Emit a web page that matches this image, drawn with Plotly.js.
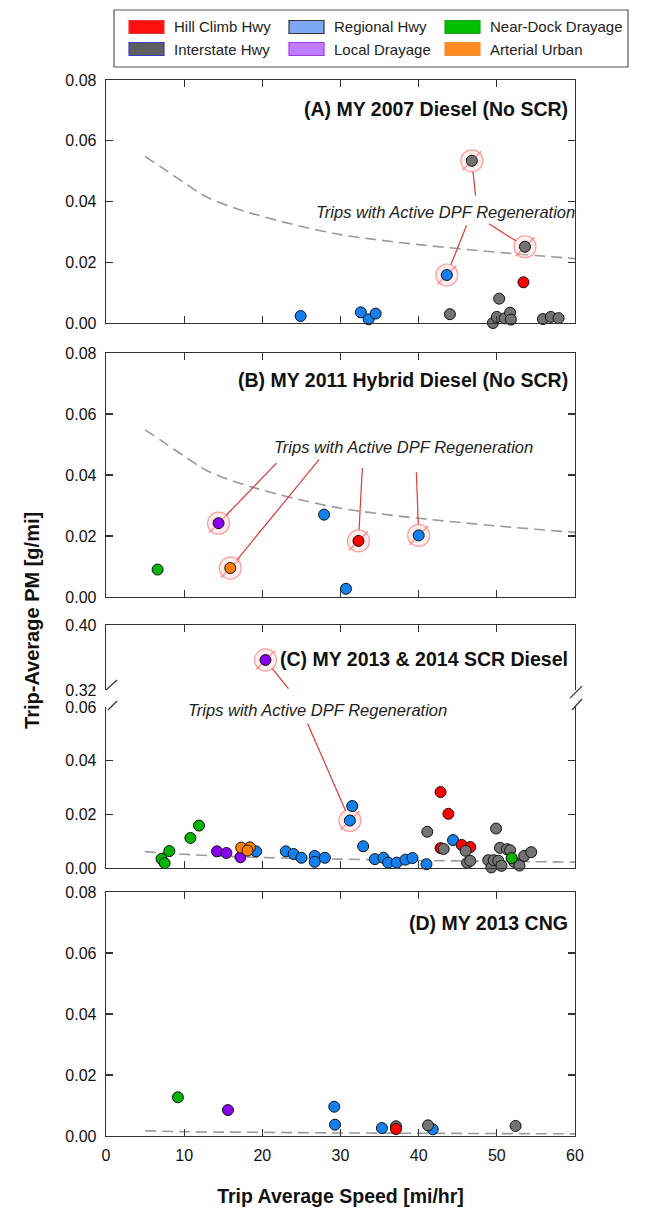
<!DOCTYPE html>
<html><head><meta charset="utf-8">
<script src="https://cdn.plot.ly/plotly-3.0.1.min.js"></script>
<style>html,body{margin:0;padding:0;background:#fff}#chart{width:651px;height:1213px}</style>
</head><body><div id="chart"></div>
<script>
// ---------- categories ----------
const categories = ['Hill Climb Hwy', 'Interstate Hwy', 'Regional Hwy', 'Local Drayage', 'Near-Dock Drayage', 'Arterial Urban'];
const categoryCodes = ['H', 'I', 'R', 'L', 'N', 'A'];
const panelTitles = ['(A) MY 2007 Diesel (No SCR)', '(B) MY 2011 Hybrid Diesel (No SCR)', '(C) MY 2013 & 2014 SCR Diesel', '(D) MY 2013 CNG'];
const regenLabel = 'Trips with Active DPF Regeneration';
const xTitle = 'Trip Average Speed [mi/hr]';
const yTitle = 'Trip-Average PM [g/mi]';
const xTicks = [0, 10, 20, 30, 40, 50, 60];
const yTicks = [0, 0.02, 0.04, 0.06, 0.08];
const yTicksCLow = [0, 0.02, 0.04, 0.06];
const yTicksCHigh = [0.32, 0.40];

// ---------- Panel A: MY 2007 Diesel ----------
const aSpeed = [24.9, 32.6, 33.6, 34.5, 43.6, 44.0, 46.8, 53.6, 53.4, 50.3, 49.5, 50.0, 51.0, 51.7, 51.8, 55.9, 56.9, 57.9];
const aPM    = [0.0023, 0.0035, 0.0012, 0.0031, 0.0158, 0.0029, 0.0534, 0.0251, 0.0134, 0.0080, 0.0000, 0.0020, 0.0015, 0.0034, 0.0011, 0.0013, 0.0020, 0.0016];
const aType  = ['R', 'R', 'R', 'R', 'R', 'I', 'I', 'I', 'H', 'I', 'I', 'I', 'I', 'I', 'I', 'I', 'I', 'I'];
const aRegen = [0, 0, 0, 0, 1, 0, 1, 1, 0, 0, 0, 0, 0, 0, 0, 0, 0, 0];

// ---------- Panel B: MY 2011 Hybrid Diesel ----------
const bSpeed = [6.6, 14.4, 15.9, 27.9, 30.7, 32.3, 40.0];
const bPM    = [0.0090, 0.0242, 0.0095, 0.0270, 0.0027, 0.0184, 0.0202];
const bType  = ['N', 'L', 'A', 'R', 'R', 'H', 'R'];
const bRegen = [0, 1, 1, 0, 0, 1, 1];

// ---------- Panel C: MY 2013 & 2014 SCR Diesel ----------
const cSpeed = [7.1, 7.5, 8.1, 10.8, 11.9, 51.9,
                14.2, 15.4, 17.2, 20.4,
                17.3, 18.4, 18.1,
                19.2, 23.0, 24.0, 25.0, 26.7, 26.7, 28.0, 31.5, 31.2, 32.9, 34.4, 35.5, 36.1, 37.2, 38.3, 39.2, 41.0, 44.4,
                41.1, 43.2, 46.0, 46.2, 46.6, 49.9, 48.9, 49.3, 49.6, 50.2, 50.4, 50.6, 51.3, 51.7, 52.2, 52.9, 53.5, 54.4,
                42.8, 43.8, 42.8, 45.5, 46.6];
const cPM    = [0.0034, 0.0018, 0.0063, 0.0112, 0.0158, 0.0037,
                0.0062, 0.0056, 0.0040, 0.357,
                0.0076, 0.0077, 0.0065,
                0.0062, 0.0062, 0.0052, 0.0038, 0.0045, 0.0023, 0.0038, 0.0231, 0.0177, 0.0081, 0.0033, 0.0038, 0.0020, 0.0020, 0.0031, 0.0037, 0.0014, 0.0104,
                0.0135, 0.0071, 0.0064, 0.0019, 0.0027, 0.0147, 0.0029, 0.0002, 0.0029, 0.0027, 0.0075, 0.0008, 0.0070, 0.0066, 0.0023, 0.0009, 0.0045, 0.0059,
                0.0283, 0.0202, 0.0074, 0.0086, 0.0078];
const cType  = ['N', 'N', 'N', 'N', 'N', 'N',
                'L', 'L', 'L', 'L',
                'A', 'A', 'A',
                'R', 'R', 'R', 'R', 'R', 'R', 'R', 'R', 'R', 'R', 'R', 'R', 'R', 'R', 'R', 'R', 'R', 'R',
                'I', 'I', 'I', 'I', 'I', 'I', 'I', 'I', 'I', 'I', 'I', 'I', 'I', 'I', 'I', 'I', 'I', 'I',
                'H', 'H', 'H', 'H', 'H'];
const cRegen = [0, 0, 0, 0, 0, 0,
                0, 0, 0, 1,
                0, 0, 0,
                0, 0, 0, 0, 0, 0, 0, 0, 1, 0, 0, 0, 0, 0, 0, 0, 0, 0,
                0, 0, 0, 0, 0, 0, 0, 0, 0, 0, 0, 0, 0, 0, 0, 0, 0, 0,
                0, 0, 0, 0, 0];

// ---------- Panel D: MY 2013 CNG ----------
const dSpeed = [9.2, 15.6, 29.2, 29.3, 35.3, 37.1, 37.1, 41.2, 41.8, 52.4];
const dPM    = [0.0127, 0.0085, 0.0096, 0.0037, 0.0026, 0.0032, 0.0023, 0.0035, 0.0022, 0.0033];
const dType  = ['N', 'L', 'R', 'R', 'R', 'I', 'H', 'I', 'R', 'I'];
const dRegen = [0, 0, 0, 0, 0, 0, 0, 0, 0, 0];

// ---------- dashed reference curves ----------
const fitSpeedAB = [5, 7, 10, 13, 17, 20, 24, 30, 35, 40, 45, 50, 55, 60];
const fitPMAB    = [0.0548, 0.0514, 0.0462, 0.0413, 0.0374, 0.0351, 0.0324, 0.0291, 0.0273, 0.0258, 0.0245, 0.0233, 0.0222, 0.0212];
const fitSpeedC  = [5, 10, 15, 20, 30, 40, 50, 60];
const fitPMC     = [0.0061, 0.0051, 0.0044, 0.0039, 0.0033, 0.0028, 0.0025, 0.0022];
const fitSpeedD  = [5, 10, 20, 30, 40, 50, 60];
const fitPMD     = [0.0017, 0.0014, 0.0012, 0.0010, 0.0009, 0.0008, 0.0007];

// ---------- styles ----------
const FONT = 'Arial, "Liberation Sans", Helvetica, sans-serif';
const markerColors  = ['#ff0000', '#737373', '#1480ee', '#8a00ee', '#00b400', '#ff7f00'];
const swatchColors  = ['#ff1010', '#5f5f5f', '#7ea8f2', '#c07cff', '#00c000', '#ff8a20'];
const swatchBorders = ['#e03a3a', '#3a3acc', '#333333', '#9a40e0', '#22a022', '#f09040'];
const leaderColor = '#e03a3a';
const drawOrderDefault = ['R', 'L', 'A', 'H', 'I', 'N'];
const drawOrderD = ['R', 'N', 'L', 'A', 'I', 'H'];

const traces = [];
function fitTrace(xs, ys, xa, ya) {
  traces.push({type: 'scatter', mode: 'lines', x: xs, y: ys, xaxis: xa, yaxis: ya,
    line: {color: '#9a9a9a', width: 1.6, dash: '11px,6px', shape: 'spline'},
    hoverinfo: 'skip', showlegend: false});
}
function panelTraces(speed, pm, type, regen, groups, order) {
  groups.forEach(g => {
    const idx = speed.map((_, i) => i).filter(i => g.test(pm[i]));
    const r = idx.filter(i => regen[i]);
    if (r.length) {
      traces.push({type: 'scatter', mode: 'markers', xaxis: g.xa, yaxis: g.ya,
        x: r.map(i => speed[i]), y: r.map(i => pm[i]), cliponaxis: false,
        marker: {size: 22, color: 'rgba(255,205,205,0.35)', line: {color: 'rgba(255,130,130,0.75)', width: 1.2}},
        hoverinfo: 'skip', showlegend: false});
      traces.push({type: 'scatter', mode: 'markers', xaxis: g.xa, yaxis: g.ya,
        x: r.map(i => speed[i]), y: r.map(i => pm[i]), cliponaxis: false,
        marker: {symbol: 'line-ne', size: 19, color: 'rgba(255,120,120,0.7)', line: {color: 'rgba(255,120,120,0.7)', width: 1.6}},
        hoverinfo: 'skip', showlegend: false});
    }
    order.forEach(code => {
      const ci = categoryCodes.indexOf(code);
      const c = idx.filter(i => type[i] === code);
      if (!c.length) return;
      traces.push({type: 'scatter', mode: 'markers', name: categories[ci], xaxis: g.xa, yaxis: g.ya,
        x: c.map(i => speed[i]), y: c.map(i => pm[i]), cliponaxis: false,
        marker: {size: 11, color: markerColors[ci], line: {color: '#111', width: 1}},
        showlegend: false});
    });
  });
}
const all = () => true;
fitTrace(fitSpeedAB, fitPMAB, 'x', 'y');
fitTrace(fitSpeedAB, fitPMAB, 'x2', 'y2');
fitTrace(fitSpeedC, fitPMC, 'x4', 'y4');
fitTrace(fitSpeedD, fitPMD, 'x5', 'y5');
panelTraces(aSpeed, aPM, aType, aRegen, [{xa: 'x', ya: 'y', test: all}], drawOrderDefault);
panelTraces(bSpeed, bPM, bType, bRegen, [{xa: 'x2', ya: 'y2', test: all}], drawOrderDefault);
panelTraces(cSpeed, cPM, cType, cRegen, [{xa: 'x3', ya: 'y3', test: v => v >= 0.3}, {xa: 'x4', ya: 'y4', test: v => v < 0.3}], drawOrderDefault);
panelTraces(dSpeed, dPM, dType, dRegen, [{xa: 'x5', ya: 'y5', test: all}], drawOrderD);

// ---------- axes ----------
const lineC = '#333';
function xAxis(anchor, extra) {
  return Object.assign({anchor: anchor, range: [0, 60], tickvals: xTicks, ticks: 'inside', ticklen: 7, tickwidth: 1.2,
    tickcolor: lineC, showline: true, linecolor: lineC, linewidth: 1.3, mirror: 'ticks', showgrid: false,
    zeroline: false, showticklabels: false, fixedrange: true,
    tickfont: {family: FONT, size: 16, color: '#111'}}, extra || {});
}
function yAxis(anchor, domain, range, ticks, extra) {
  return Object.assign({anchor: anchor, domain: domain, range: range, tickvals: ticks, tickformat: '.2f',
    ticks: 'inside', ticklen: 7, tickwidth: 1.2, tickcolor: lineC, showline: true, linecolor: lineC,
    linewidth: 1.3, mirror: 'ticks', showgrid: false, zeroline: false, fixedrange: true, ticklabelstandoff: 5,
    tickfont: {family: FONT, size: 16, color: '#111'}}, extra || {});
}
const domA = [0.7699, 1.0], domB = [0.5104, 0.7415], domCHi = [0.4223, 0.4839], domCLo = [0.2538, 0.40625], domD = [0, 0.2311];

// ---------- annotations ----------
const annotations = [];
const titleY = [0.88, 0.889, 0.477, 0.873];
const titleRefs = [['x', 'y'], ['x2', 'y2'], ['x3', 'y3'], ['x5', 'y5']];
panelTitles.forEach((t, i) => annotations.push({text: t, xref: titleRefs[i][0] + ' domain', yref: titleRefs[i][1] + ' domain',
  x: 0.989, y: titleY[i], xanchor: 'right', yanchor: 'middle', showarrow: false,
  font: {family: FONT, size: 19.5, color: '#111', weight: 'bold'}}));
// regeneration labels
const regenLabelPos = [{xa: 'x', ya: 'y', x: 43.4, y: 0.0365}, {xa: 'x2', ya: 'y2', x: 38.0, y: 0.0493}, {xa: 'x4', ya: 'y4', x: 27.1, y: 0.0589}];
regenLabelPos.forEach(p => annotations.push({text: regenLabel, xref: p.xa, yref: p.ya, x: p.x, y: p.y,
  showarrow: false, xanchor: 'center', yanchor: 'middle',
  font: {family: FONT, size: 16.5, color: '#222', style: 'italic'}}));
// leader lines: from near label to each regeneration point
function leaders(speed, pm, regen, tails, pick) {
  let k = 0;
  speed.forEach((s, i) => {
    if (!regen[i]) return;
    const t = tails[k++];
    const ax = pick(pm[i]);
    annotations.push({text: '', x: s, y: pm[i], xref: ax[0], yref: ax[1], axref: ax[0], ayref: ax[1],
      ax: t[0], ay: t[1], showarrow: true, arrowhead: 0, arrowwidth: 1.2, arrowcolor: leaderColor, standoff: 11});
  });
}
leaders(aSpeed, aPM, aRegen, [[46.2, 0.0326], [47.3, 0.0414], [48.8, 0.0330]], () => ['x', 'y']);
leaders(bSpeed, bPM, bRegen, [[22.0, 0.0444], [27.4, 0.0455], [32.8, 0.0428], [39.7, 0.0414]], () => ['x2', 'y2']);
leaders(cSpeed, cPM, cRegen, [[23.5, 0.3200], [25.7, 0.0544]], v => v >= 0.3 ? ['x3', 'y3'] : ['x4', 'y4']);
// y-axis title
annotations.push({text: yTitle, xref: 'paper', yref: 'paper', x: -0.158, y: 0.4886, textangle: -90,
  showarrow: false, xanchor: 'center', yanchor: 'middle', font: {family: FONT, size: 20, color: '#111', weight: 'bold'}});

// ---------- legend (boxed, rectangular swatches, 3 columns x 2 rows) ----------
const shapes = [];
const PW = 469, PH = 1056, L0 = 106, B0 = 1136;
const px2x = p => (p - L0) / PW, py2y = p => (B0 - p) / PH;
shapes.push({type: 'rect', xref: 'paper', yref: 'paper', x0: px2x(114), x1: px2x(628), y0: py2y(67), y1: py2y(10),
  line: {color: '#555', width: 1.2}, fillcolor: 'rgba(0,0,0,0)'});
const legendOrder = [0, 2, 4, 1, 3, 5];
const colX = [129, 289, 445], rowY = [27, 49];
legendOrder.forEach((ci, k) => {
  const col = k % 3, row = Math.floor(k / 3);
  shapes.push({type: 'rect', xref: 'paper', yref: 'paper', x0: px2x(colX[col]), x1: px2x(colX[col] + 35),
    y0: py2y(rowY[row] + 6.5), y1: py2y(rowY[row] - 6.5), fillcolor: swatchColors[ci],
    line: {color: swatchBorders[ci], width: 1.2}});
  annotations.push({text: categories[ci], xref: 'paper', yref: 'paper', x: px2x(colX[col] + 43), y: py2y(rowY[row]),
    xanchor: 'left', yanchor: 'middle', showarrow: false, font: {family: FONT, size: 15, color: '#222'}});
});
// axis-break marks on panel C
const brk = (xa, ya, dx0, dy0, dx1, dy1) => shapes.push({type: 'line', xref: 'paper', yref: 'paper',
  xsizemode: 'pixel', ysizemode: 'pixel', xanchor: xa, yanchor: ya, x0: dx0, y0: dy0, x1: dx1, y1: dy1,
  line: {color: lineC, width: 1.2}});
brk(0, domCHi[0], 0, 0, 11, 10);
brk(0, domCLo[1], 2, -3, 11, 6);
brk(1, domCHi[0], -5, -8, 7, 4);
brk(1, domCLo[1], -3, -3, 7, 8);

const layout = {
  width: 651, height: 1213, margin: {l: 106, r: 76, t: 80, b: 77},
  paper_bgcolor: '#fff', plot_bgcolor: '#fff', showlegend: false,
  font: {family: FONT, color: '#111'},
  xaxis: xAxis('y'),
  xaxis2: xAxis('y2', {matches: 'x'}),
  xaxis3: xAxis('y3', {matches: 'x', side: 'top', mirror: false}),
  xaxis4: xAxis('y4', {matches: 'x', mirror: false}),
  xaxis5: xAxis('y5', {matches: 'x', showticklabels: true, ticklabelstandoff: 4,
    title: {text: xTitle, standoff: 26, font: {family: FONT, size: 19.5, color: '#111', weight: 'bold'}}}),
  yaxis: yAxis('x', domA, [0, 0.08], yTicks),
  yaxis2: yAxis('x2', domB, [0, 0.08], yTicks),
  yaxis3: yAxis('x3', domCHi, [0.32, 0.40], yTicksCHigh),
  yaxis4: yAxis('x4', domCLo, [0, 0.06], yTicksCLow),
  yaxis5: yAxis('x5', domD, [0, 0.08], yTicks),
  annotations: annotations, shapes: shapes
};
Plotly.newPlot('chart', traces, layout, {displayModeBar: false, staticPlot: true});
</script></body></html>
